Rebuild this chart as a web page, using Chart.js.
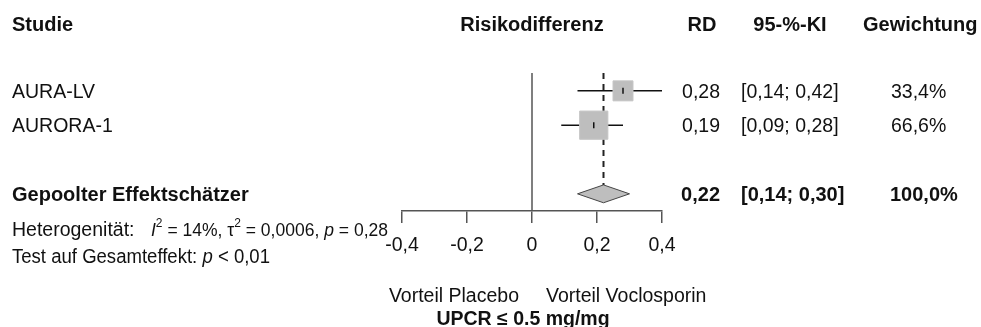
<!DOCTYPE html>
<html><head><meta charset="utf-8">
<script src="https://cdn.jsdelivr.net/npm/chart.js@4"></script>
<style>html,body{margin:0;padding:0;background:#fff;overflow:hidden}canvas{display:block}</style>
</head><body>
<canvas id="c" width="981" height="327"></canvas>
<script>
// ---- data ----
const studies = ['AURA-LV', 'AURORA-1'];
const rd = [0.28, 0.19];
const ciLow = [0.14, 0.09];
const ciHigh = [0.42, 0.28];
const weights = [33.4, 66.6];
const pooledLabel = 'Gepoolter Effektschätzer';
const pooledRd = [0.22];
const pooledLow = [0.14];
const pooledHigh = [0.30];
const pooledWeight = [100.0];
const xTicks = [-0.4, -0.2, 0, 0.2, 0.4];
const xTickLabels = ['-0,4', '-0,2', '0', '0,2', '0,4'];
const headers = ['Studie', 'Risikodifferenz', 'RD', '95-%-KI', 'Gewichtung'];
const sideLabels = ['Vorteil Placebo', 'Vorteil Voclosporin'];
const outcomeLabel = 'UPCR ≤ 0.5 mg/mg';
const heterogeneity = {i2: '14%', tau2: '0,0006', p: '0,28'};
const overallTest = '< 0,01';

// row layout (value units of the y scale)
const studyRows = [0, 1];
const pooledRow = 3;
const yMin = -0.52, yMax = 3.5;
const diamondHalf = 0.26;

const fmt = (v, d) => v.toFixed(d).replace('.', ',');
const FONT = '"Liberation Sans", Arial, sans-serif';
const FS = 19.5;
const FSB = 20;

const datasets = [];
// zero line
datasets.push({type: 'line', data: [{x: 0, y: yMin}, {x: 0, y: yMax}], borderColor: '#555', borderWidth: 1.5, pointRadius: 0, order: 8});
// pooled dashed line
datasets.push({type: 'line', data: [{x: pooledRd[0], y: yMin}, {x: pooledRd[0], y: pooledRow - diamondHalf}], borderColor: '#222', borderWidth: 2, borderDash: [6, 5], pointRadius: 0, order: 7});
// CI lines
studies.forEach((s, i) => {
  datasets.push({type: 'line', data: [{x: ciLow[i], y: studyRows[i]}, {x: ciHigh[i], y: studyRows[i]}], borderColor: '#111', borderWidth: 1.5, pointRadius: 0, order: 6});
});
// squares
datasets.push({type: 'scatter', data: studies.map((s, i) => ({x: rd[i], y: studyRows[i]})), pointStyle: 'rect',
  pointRadius: weights.map(w => Math.sqrt(w) * 3.46 / Math.SQRT2), backgroundColor: '#bebebe', borderColor: '#c6c6c6', borderWidth: 1, order: 4});
// centre ticks
datasets.push({type: 'scatter', data: studies.map((s, i) => ({x: rd[i], y: studyRows[i]})), pointStyle: 'line', rotation: 90,
  pointRadius: 3, borderColor: '#111', borderWidth: 1.5, order: 2});
// diamond
datasets.push({type: 'line', data: [
  {x: pooledLow[0], y: pooledRow}, {x: pooledRd[0], y: pooledRow - diamondHalf},
  {x: pooledHigh[0], y: pooledRow}, {x: pooledRd[0], y: pooledRow + diamondHalf},
  {x: pooledLow[0], y: pooledRow}],
  borderColor: '#444', borderWidth: 1, backgroundColor: '#bebebe', fill: 'shape', pointRadius: 0, tension: 0, order: 3});

// draw text segments (mixed fonts) fitted into a given width
function drawSegments(ctx, x, y, segs, width) {
  let total = 0;
  for (const s of segs) { ctx.font = s.font; total += ctx.measureText(s.t).width; }
  const k = width ? width / total : 1;
  ctx.save();
  ctx.translate(x, 0);
  ctx.scale(k, 1);
  ctx.textAlign = 'left';
  let cx = 0;
  for (const s of segs) {
    ctx.font = s.font;
    ctx.fillText(s.t, cx, y + (s.dy || 0));
    cx += ctx.measureText(s.t).width;
  }
  ctx.restore();
}

const textPlugin = {
  id: 'forestText',
  afterDraw(chart) {
    const ctx = chart.ctx;
    const xs = chart.scales.x, ys = chart.scales.y;
    const plain = FS + 'px ' + FONT, bold = 'bold ' + FSB + 'px ' + FONT;
    const p19 = '19px ' + FONT, ital = 'italic 19px ' + FONT, sup = '13px ' + FONT;
    ctx.save();
    ctx.fillStyle = '#111';
    ctx.textBaseline = 'alphabetic';
    // headers
    ctx.font = bold;
    ctx.textAlign = 'left'; ctx.fillText(headers[0], 12, 31);
    ctx.textAlign = 'center'; ctx.fillText(headers[1], xs.getPixelForValue(0), 31);
    ctx.fillText(headers[2], 702, 31);
    ctx.fillText(headers[3], 790, 31);
    ctx.textAlign = 'left'; ctx.fillText(headers[4], 863, 31);
    // study rows
    studies.forEach((s, i) => {
      const y = ys.getPixelForValue(studyRows[i]) + 7;
      ctx.font = plain;
      ctx.textAlign = 'left'; ctx.fillText(s, 12, y);
      ctx.textAlign = 'right'; ctx.fillText(fmt(rd[i], 2), 720, y);
      ctx.textAlign = 'left'; ctx.fillText('[' + fmt(ciLow[i], 2) + '; ' + fmt(ciHigh[i], 2) + ']', 741, y);
      ctx.fillText(fmt(weights[i], 1) + '%', 891, y);
    });
    // pooled row
    const py = ys.getPixelForValue(pooledRow) + 7;
    ctx.font = bold;
    ctx.textAlign = 'left'; ctx.fillText(pooledLabel, 12, py);
    ctx.textAlign = 'right'; ctx.fillText(fmt(pooledRd[0], 2), 720, py);
    ctx.textAlign = 'left'; ctx.fillText('[' + fmt(pooledLow[0], 2) + '; ' + fmt(pooledHigh[0], 2) + ']', 741, py);
    ctx.fillText(fmt(pooledWeight[0], 1) + '%', 890, py);
    // heterogeneity
    ctx.font = plain; ctx.textAlign = 'left';
    ctx.fillText('Heterogenität:', 12, 236);
    drawSegments(ctx, 151, 236, [
      {t: 'I', font: ital}, {t: '2', font: sup, dy: -9},
      {t: ' = ' + heterogeneity.i2 + ', τ', font: p19}, {t: '2', font: sup, dy: -9},
      {t: ' = ' + heterogeneity.tau2 + ', ', font: p19}, {t: 'p', font: ital},
      {t: ' = ' + heterogeneity.p, font: p19}], 237);
    drawSegments(ctx, 12, 263, [
      {t: 'Test auf Gesamteffekt: ', font: plain}, {t: 'p', font: 'italic ' + FS + 'px ' + FONT}, {t: ' ' + overallTest, font: plain}], 258);
    // bottom labels
    const x0 = xs.getPixelForValue(0);
    ctx.font = plain;
    ctx.textAlign = 'right'; ctx.fillText(sideLabels[0], x0 - 13, 302);
    ctx.textAlign = 'left'; ctx.fillText(sideLabels[1], x0 + 14, 302);
    ctx.font = 'bold 19.5px ' + FONT; ctx.textAlign = 'center';
    ctx.fillText(outcomeLabel, 523, 325);
    ctx.restore();
  }
};

new Chart(document.getElementById('c'), {
  type: 'scatter',
  data: {datasets},
  options: {
    responsive: false, devicePixelRatio: 1, animation: false,
    layout: {padding: {left: 402, right: 319, top: 73, bottom: 0}},
    plugins: {legend: {display: false}, tooltip: {enabled: false}},
    scales: {
      x: {type: 'linear', min: -0.4, max: 0.4,
        afterBuildTicks: s => { s.ticks = xTicks.map(v => ({value: v})); },
        afterFit: s => { s.height = 116; },
        border: {display: true, color: '#555', width: 1.5},
        grid: {drawOnChartArea: false, drawTicks: true, tickLength: 12, color: '#555', lineWidth: 1.5},
        ticks: {padding: 11, color: '#111', font: {family: FONT, size: FS}, maxRotation: 0,
          callback: (v, i) => xTickLabels[i]}
      },
      y: {type: 'linear', display: false, min: yMin, max: yMax, reverse: true}
    }
  },
  plugins: [textPlugin]
});
</script>
</body></html>
